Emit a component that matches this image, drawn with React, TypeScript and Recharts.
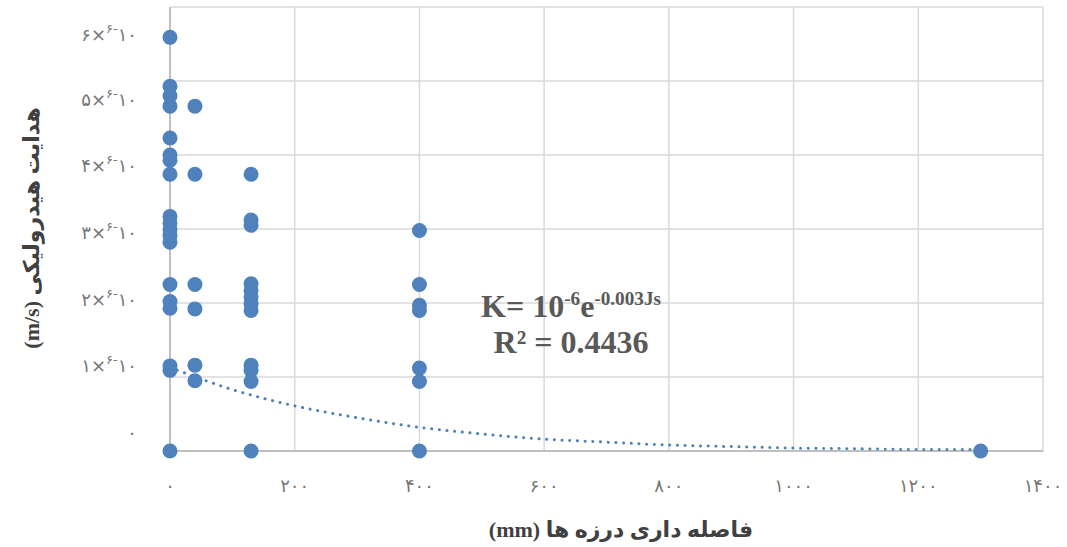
import { ScatterChart, Scatter, XAxis, YAxis, CartesianGrid } from 'recharts';

// hydraulic conductivity, in units of 1e-6 m/s, per joint spacing (mm)
const spacings = [0, 40, 130, 400, 1300];
const conductivityAt0 = [5.59, 4.93, 4.8, 4.66, 4.23, 4.0, 3.93, 3.74, 3.17, 3.08, 2.99, 2.91, 2.82, 2.25, 2.02, 1.93, 1.15, 1.09, 0];
const conductivityAt40 = [4.66, 3.74, 2.25, 1.92, 1.16, 0.95];
const conductivityAt130 = [3.74, 3.12, 3.05, 2.26, 2.17, 2.08, 1.99, 1.9, 1.16, 1.09, 0.94, 0];
const conductivityAt400 = [2.98, 2.25, 1.97, 1.9, 1.12, 0.94, 0];
const conductivityAt1300 = [0];

// exponential trendline
const trendSpacing = [0, 100, 200, 300, 400, 500, 600, 700, 800, 900, 1000, 1100, 1200, 1300];
const trendConductivity = [1.13, 0.83, 0.61, 0.45, 0.32, 0.23, 0.16, 0.12, 0.08, 0.06, 0.04, 0.03, 0.02, 0.02];

const xTicks = [0, 200, 400, 600, 800, 1000, 1200, 1400];
const yTicks = [0, 1, 2, 3, 4, 5, 6];

const BLUE = '#4f81bd';
const faDigits = '۰۱۲۳۴۵۶۷۸۹';
const fa = (n: number) => String(n).replace(/\d/g, (d) => faDigits[Number(d)]);

const groups = [conductivityAt0, conductivityAt40, conductivityAt130, conductivityAt400, conductivityAt1300];
const points = groups.flatMap((vals, i) => vals.map((k) => ({ s: spacings[i], k })));
const trend = trendSpacing.map((s, i) => ({ s, k: trendConductivity[i] }));

const tickFont = "'DejaVu Sans', sans-serif";
const titleFont = "'Liberation Serif', 'Times New Roman', 'DejaVu Sans', serif";
const tickColor = '#767676';

function XTick({ x, y, payload }: any) {
  return (
    <text x={x} y={y + 41} textAnchor="middle" fill={tickColor} fontSize={18} fontFamily={tickFont}>
      {fa(payload.value)}
    </text>
  );
}

// the y labels in the original sit a little squeezed towards the middle of the axis
function YTick({ x, y, payload }: any) {
  const v = payload.value;
  const ly = 33 + (y - 7) * (400 / 444) + 6;
  if (v === 0) {
    return (
      <text x={x - 33} y={ly} textAnchor="end" fill={tickColor} fontSize={18} fontFamily={tickFont}>
        {fa(0)}
      </text>
    );
  }
  return (
    <text x={x - 33} y={ly} textAnchor="end" fill={tickColor} fontSize={18} fontFamily={tickFont}>
      <tspan>{fa(v)}×</tspan>
      <tspan dy={-8} fontSize={13}>
        {fa(6)}-
      </tspan>
      <tspan dy={8}>{fa(10)}</tspan>
    </text>
  );
}

export default function App() {
  return (
    <div
      style={{ position: 'absolute', left: 0, top: 0, width: 1067, height: 547, background: '#fff' }}
    >
      <ScatterChart width={1067} height={547} margin={{ top: 7, right: 24, left: 0, bottom: 0 }}>
        <CartesianGrid stroke="#d9d9d9" strokeWidth={1.5} />
        <XAxis
          type="number"
          dataKey="s"
          domain={[0, 1400]}
          ticks={xTicks}
          height={96}
          tickSize={0}
          tickMargin={0}
          tick={<XTick />}
          axisLine={{ stroke: '#bfbfbf', strokeWidth: 2 }}
        />
        <YAxis
          type="number"
          dataKey="k"
          domain={[0, 6]}
          ticks={yTicks}
          width={170}
          tickSize={0}
          tickMargin={0}
          tick={<YTick />}
          axisLine={{ stroke: '#bfbfbf', strokeWidth: 2 }}
        />
        <Scatter
          data={trend}
          line={{ stroke: BLUE, strokeWidth: 3, strokeDasharray: '0.1 7.6', strokeLinecap: 'round' }}
          lineJointType="monotoneX"
          shape={() => <g />}
          isAnimationActive={false}
        />
        <Scatter
          data={points}
          shape={(p: any) => <circle cx={p.cx} cy={p.cy} r={7.5} fill={BLUE} />}
          isAnimationActive={false}
        />
      </ScatterChart>

      <div
        style={{
          position: 'absolute',
          left: 571,
          top: 288,
          transform: 'translateX(-50%)',
          textAlign: 'center',
          whiteSpace: 'nowrap',
          fontFamily: titleFont,
          fontWeight: 'bold',
          fontSize: 32,
          lineHeight: '36px',
          color: '#595959',
        }}
      >
        <div>
          K= 10<sup style={{ fontSize: '0.6em', lineHeight: 0 }}>-6</sup>e
          <sup style={{ fontSize: '0.6em', lineHeight: 0 }}>-0.003Js</sup>
        </div>
        <div>R² = 0.4436</div>
      </div>

      <div
        dir="rtl"
        style={{
          position: 'absolute',
          left: 621,
          top: 530,
          transform: 'translate(-50%, -50%)',
          whiteSpace: 'nowrap',
          fontFamily: titleFont,
          fontWeight: 'bold',
          fontSize: 22,
          color: '#404040',
        }}
      >
        فاصله داری درزه ها (mm)
      </div>
      <div
        dir="rtl"
        style={{
          position: 'absolute',
          left: 32,
          top: 228,
          transform: 'translate(-50%, -50%) rotate(-90deg)',
          whiteSpace: 'nowrap',
          fontFamily: titleFont,
          fontWeight: 'bold',
          fontSize: 22,
          color: '#404040',
        }}
      >
        هدایت هیدرولیکی (m/s)
      </div>
    </div>
  );
}
